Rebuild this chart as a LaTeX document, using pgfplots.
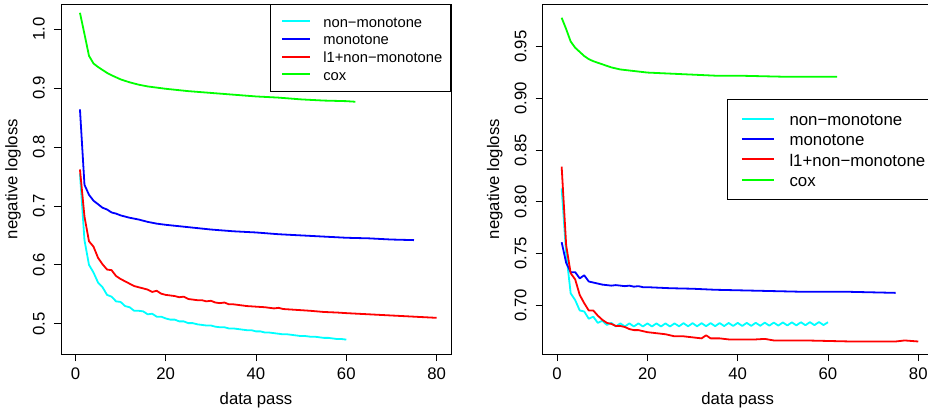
\documentclass[border=0pt]{standalone}
\usepackage{fontspec}
\setmainfont{Liberation Sans}
\usepackage{pgfplots}
\pgfplotsset{compat=1.18}

\definecolor{rcyan}{RGB}{0,255,255}
\definecolor{rblue}{RGB}{0,0,255}
\definecolor{rred}{RGB}{255,0,0}
\definecolor{rgreen}{RGB}{0,255,0}

\pgfplotsset{
  rplot/.style={
    scale only axis, width=390bp, height=350bp,
    xmin=-3.2, xmax=83.2,
    axis line style={line width=0.9bp, black},
    tick style={line width=0.9bp, black},
    major tick length=7bp,
    tick align=outside, xtick pos=bottom, ytick pos=left,
    xtick={0,20,40,60,80},
    font=\fontsize{16.8}{20}\selectfont,
    /pgf/number format/assume math mode=true,
    xlabel={data pass}, ylabel={negative logloss},
    every axis x label/.style={at={(axis description cs:0.5,-0.1314)}, anchor=center},
    every axis y label/.style={at={(axis description cs:-0.1228,0.5)}, anchor=center, rotate=90},
    xticklabel style={anchor=north, inner sep=0pt},
    xticklabel shift=6.3bp,
    yticklabel style={rotate=90, anchor=south, inner sep=0pt},
    yticklabel shift=9bp,
    legend cell align=left,
    every axis plot/.append style={line width=1.8bp, line join=round},
  }
}

\begin{document}
\begin{tikzpicture}
% left panel
\begin{axis}[rplot,
  at={(61bp,56bp)}, anchor=south west,
  ymin=0.4486, ymax=1.043,
  ytick={0.5,0.6,0.7,0.8,0.9,1.0},
  yticklabel style={/pgf/number format/.cd, fixed, fixed zerofill, precision=1},
  legend image code/.code={%
    \path[draw=none, fill=none] (-4bp,0bp) -- (0bp,0bp);
    \draw[#1, line width=2bp] (0bp,0bp) -- (28bp,0bp);},
  legend style={at={(1,1)}, anchor=north east, draw=black, fill=white, line width=0.9bp,
    inner xsep=8.3bp, inner ysep=8bp, row sep=0pt,
    font=\fontsize{14.8}{18}\selectfont,
    nodes={inner xsep=0pt, inner ysep=3bp, text height=11.7bp, text depth=0pt}},
]
\addplot[rcyan] coordinates {
(1,0.755)(2,0.642)(3,0.600)(4,0.587)(5,0.570)(6,0.562)(7,0.549)(8,0.546)(9,0.538)(10,0.537)
(11,0.530)(12,0.528)(13,0.522)(14,0.522)(15,0.521)(16,0.516)(17,0.517)(18,0.512)(19,0.512)(20,0.509)
(21,0.507)(22,0.507)(23,0.504)(24,0.504)(25,0.501)(26,0.501)(27,0.499)(28,0.498)(29,0.497)(30,0.497)
(31,0.495)(32,0.494)(33,0.494)(34,0.492)(35,0.492)(36,0.491)(37,0.490)(38,0.489)(39,0.489)(40,0.487)
(41,0.487)(42,0.485)(43,0.485)(44,0.484)(45,0.483)(46,0.482)(47,0.482)(48,0.481)(49,0.480)(50,0.479)
(51,0.479)(52,0.478)(53,0.478)(54,0.477)(55,0.476)(56,0.476)(57,0.475)(58,0.474)(59,0.474)(60,0.473)
};
\addplot[rblue] coordinates {
(1,0.864)(2,0.736)(3,0.719)(4,0.709)(5,0.703)(6,0.697)(7,0.694)(8,0.689)(9,0.687)(10,0.684)
(12,0.680)(14,0.677)(16,0.673)(18,0.670)(20,0.668)(25,0.664)(30,0.660)(35,0.657)(40,0.655)
(45,0.652)(50,0.650)(55,0.648)(60,0.646)(65,0.645)(70,0.643)(75,0.642)
};
\addplot[rred] coordinates {
(1,0.762)(2,0.682)(3,0.640)(4,0.631)(5,0.612)(6,0.601)(7,0.592)(8,0.591)(9,0.581)(10,0.576)
(11,0.572)(12,0.568)(13,0.564)(14,0.562)(15,0.560)(16,0.558)(17,0.554)(18,0.556)(19,0.551)(20,0.549)
(21,0.548)(22,0.547)(23,0.545)(24,0.546)(25,0.542)(26,0.541)(27,0.540)(28,0.540)(29,0.538)(30,0.539)
(31,0.536)(32,0.535)(33,0.536)(34,0.533)(35,0.533)(36,0.532)(38,0.530)(40,0.529)(42,0.528)(43,0.527)
(44,0.526)(45,0.527)(46,0.525)(48,0.524)(50,0.523)(52,0.522)(55,0.520)(58,0.519)(60,0.518)
(65,0.516)(70,0.514)(75,0.512)(80,0.510)
};
\addplot[rgreen] coordinates {
(1,1.028)(2,0.992)(3,0.955)(4,0.942)(5,0.936)(6,0.931)(7,0.926)(8,0.922)(10,0.915)(12,0.910)
(14,0.906)(16,0.903)(18,0.901)(20,0.899)(25,0.895)(30,0.892)(35,0.889)(40,0.886)(45,0.884)
(50,0.881)(55,0.879)(60,0.878)(62,0.877)
};
\legend{\hspace*{12bp}non−monotone, \hspace*{12bp}monotone, \hspace*{12bp}l1+non−monotone, \hspace*{12bp}cox}
\end{axis}

% right panel
\begin{axis}[rplot,
  at={(542.7bp,56bp)}, anchor=south west,
  ymin=0.6529, ymax=0.9913,
  ytick={0.70,0.75,0.80,0.85,0.90,0.95},
  yticklabel style={/pgf/number format/.cd, fixed, fixed zerofill, precision=2},
  legend image code/.code={%
    \path[draw=none, fill=none] (-7.3bp,0bp) -- (0bp,0bp);
    \draw[#1, line width=2bp] (0bp,0bp) -- (32.4bp,0bp);},
  legend style={at={(axis description cs:1,0.7294)}, anchor=north east, draw=black, fill=white, line width=0.9bp,
    inner xsep=7bp, inner ysep=9.5bp, row sep=0pt,
    font=\fontsize{16.9}{20}\selectfont,
    nodes={inner xsep=0pt, inner ysep=3.5bp, text height=13.3bp, text depth=0pt}},
]
\addplot[rcyan] coordinates {
(1,0.813)(2,0.750)(3,0.7115)(4,0.705)(5,0.695)(6,0.694)(7,0.687)(8,0.689)(9,0.683)(10,0.685)
(11,0.681)(12,0.683)(13,0.6795)(14,0.6825)(15,0.6795)(16,0.6825)(17,0.6795)(18,0.6825)(19,0.6795)(20,0.6825)
(21,0.6795)(22,0.6825)(23,0.6795)(24,0.6825)(25,0.6795)(26,0.6825)(27,0.6797)(28,0.6827)(29,0.6797)(30,0.6827)
(31,0.6797)(32,0.6827)(33,0.6798)(34,0.6828)(35,0.6798)(36,0.6828)(37,0.6799)(38,0.6829)(39,0.6800)(40,0.6830)
(41,0.6800)(42,0.6830)(43,0.6801)(44,0.6831)(45,0.6802)(46,0.6832)(47,0.6803)(48,0.6833)(49,0.6804)(50,0.6834)
(51,0.6805)(52,0.6835)(53,0.6806)(54,0.6836)(55,0.6807)(56,0.6837)(57,0.6808)(58,0.6838)(59,0.6809)(60,0.6836)
};
\addplot[rblue] coordinates {
(1,0.761)(2,0.741)(3,0.732)(4,0.732)(5,0.726)(6,0.729)(7,0.723)(8,0.722)(9,0.721)(10,0.720)
(11,0.7195)(12,0.719)(13,0.7195)(14,0.719)(15,0.7185)(16,0.719)(17,0.718)(18,0.7185)(19,0.7175)(20,0.7175)
(25,0.7165)(30,0.716)(35,0.715)(40,0.7145)(45,0.714)(50,0.7135)(55,0.713)(60,0.713)(65,0.713)
(70,0.7125)(75,0.712)
};
\addplot[rred] coordinates {
(1,0.834)(2,0.758)(3,0.731)(4,0.725)(5,0.710)(6,0.702)(7,0.695)(8,0.695)(9,0.690)(10,0.686)
(11,0.683)(12,0.682)(13,0.680)(14,0.680)(15,0.679)(16,0.677)(17,0.676)(18,0.676)(19,0.675)(20,0.674)
(22,0.673)(24,0.672)(26,0.670)(28,0.670)(30,0.669)(32,0.668)(33,0.671)(34,0.668)(36,0.668)(38,0.667)
(40,0.667)(42,0.667)(44,0.667)(46,0.6675)(48,0.666)(50,0.666)(55,0.666)(60,0.6655)(65,0.665)
(70,0.665)(75,0.665)(77,0.666)(80,0.665)
};
\addplot[rgreen] coordinates {
(1,0.978)(2,0.967)(3,0.955)(4,0.949)(5,0.945)(6,0.941)(7,0.938)(8,0.936)(10,0.933)(12,0.930)
(14,0.928)(16,0.927)(18,0.926)(20,0.925)(25,0.924)(30,0.923)(35,0.922)(40,0.922)(45,0.9215)
(50,0.921)(55,0.921)(62,0.921)
};
\legend{\hspace*{14.3bp}non−monotone, \hspace*{14.3bp}monotone, \hspace*{14.3bp}l1+non−monotone, \hspace*{14.3bp}cox}
\end{axis}
\pgfresetboundingbox
\useasboundingbox (0,0) rectangle (928bp,410bp);
\end{tikzpicture}
\end{document}
